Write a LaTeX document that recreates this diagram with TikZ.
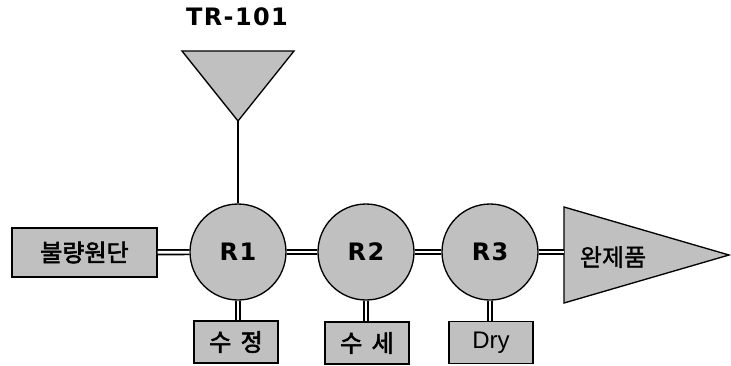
\documentclass[tikz,border=0pt]{standalone}
\usepackage{fontspec}
\setmainfont{DejaVu Sans}
\newfontfamily\kor[FakeBold=1.2]{Noto Sans CJK KR}
\newfontfamily\korb[FakeBold=2.5]{Noto Sans CJK KR}
\newfontfamily\arialf{Liberation Sans}
\definecolor{fillgray}{RGB}{192,192,192}
\begin{document}
\begin{tikzpicture}[x=0.75pt,y=0.75pt]
	\tikzstyle{every node}+=[inner sep=0pt]
	\tikzstyle{vessel}=[draw=black, line width=1pt, fill=fillgray, circle, minimum size=72pt, font=\bfseries\fontsize{18}{18}\selectfont]
	\tikzstyle{unit}=[draw=black, line width=1pt, fill=fillgray, rectangle, minimum width=63pt, minimum height=31.5pt, font=\korb\fontsize{18}{18}\selectfont]
	\tikzstyle{pipe}=[double=white, double distance=2pt, line width=1.3pt]
	\useasboundingbox (0,0) rectangle (731,-365);
	% feed hopper
	\node [font=\bfseries\fontsize{18}{18}\selectfont] (trlabel) at (237,-17) {T\kern1pt R\kern1pt -\kern1pt 1\kern1pt 0\kern1pt 1};
	\draw [black, line width=1pt, fill=fillgray] (182,-51) -- (294,-51) -- (238,-121) -- cycle;
	\coordinate (trtip) at (238,-121);
	% vessels
	\node [vessel] (R1) at (238,-252) {R\kern1pt 1};
	\node [vessel] (R2) at (366,-252) {R\kern1pt 2};
	\node [vessel] (R3) at (490,-252) {R\kern1pt 3};
	\node [unit, minimum width=108.75pt, minimum height=36.75pt] (bad) at (84.5,-252.5) {불량원단};
	\node [unit] (sj) at (236,-342) {수\hspace{7pt}정};
	\node [unit] (ss) at (367,-343) {수\hspace{7pt}세};
	\node [unit, font=\arialf\fontsize{18}{18}\selectfont] (dry) at (491,-342.5) {Dry};
	% product
	\draw [black, line width=1pt, fill=fillgray] (564,-207) -- (564,-303) -- (729,-255) -- cycle;
	\coordinate (prodin) at (564,-252);
	\node [font=\kor\fontsize{18}{18}\selectfont] (prod) at (613,-257) {완제품};
	% connections
	\draw [black, line width=1pt] (trtip) -- (R1.north);
	\draw [pipe] (bad) -- (R1);
	\draw [pipe] (R1) -- (R2);
	\draw [pipe] (R2) -- (R3);
	\draw [pipe] (R3) -- (prodin);
	\draw [pipe] (R1.south) -- (R1.south |- sj.north);
	\draw [pipe] (R2.south) -- (R2.south |- ss.north);
	\draw [pipe] (R3.south) -- (R3.south |- dry.north);
\end{tikzpicture}
\end{document}
